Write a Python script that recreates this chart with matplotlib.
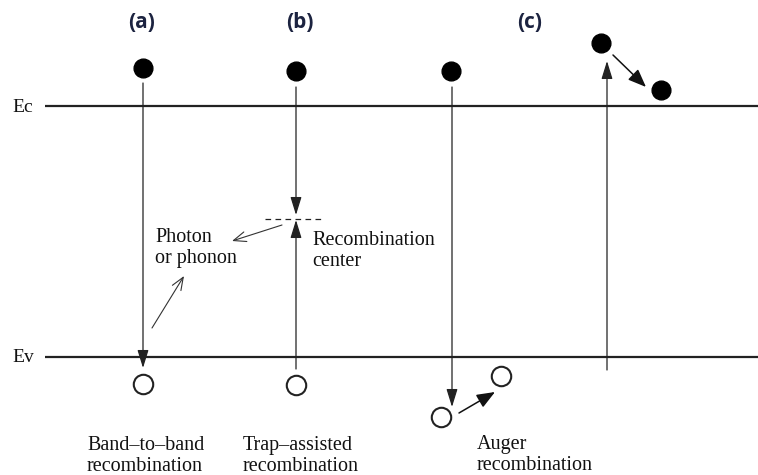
import matplotlib
matplotlib.use('Agg')
import matplotlib.pyplot as plt

W, H = 758, 475

# ---- data (pixel-like diagram coordinates) ----
band_names = ['Ec', 'Ev']
band_y = [106, 357]
band_x = [45, 758]

panel_labels = ['(a)', '(b)', '(c)']
panel_x = [142, 300, 530]
panel_y = [23, 23, 22]

electron_x = [143, 296, 451, 601, 661]
electron_y = [68, 71, 71, 43, 90]
hole_x = [143, 296, 441, 501]
hole_y = [384, 385, 417, 376]

# vertical transitions: x, start y, tip y
trans_x = [143, 296, 296, 452, 607]
trans_y0 = [83, 87, 369, 87, 370]
trans_y1 = [368, 215, 220, 407, 61]

trap_y = 219
trap_x = [265, 323]

# emission arrows (open heads): start -> end
emit_x0 = [282, 152]
emit_y0 = [225, 328]
emit_x1 = [232, 184]
emit_y1 = [241, 276]

# auger arrows (filled heads)
auger_x0 = [459, 613]
auger_y0 = [413, 55]
auger_x1 = [495, 646]
auger_y1 = [392, 87]

text_lines = ['Photon', 'or phonon', 'Recombination', 'center',
              'Band\u2013to\u2013band', 'recombination',
              'Trap\u2013assisted', 'recombination',
              'Auger', 'recombination']
text_x = [155, 155, 312, 312, 87, 87, 243, 243, 477, 477]
text_y = [242, 263, 245, 266, 450, 471, 450, 471, 449, 470]

# ---- drawing ----
fig = plt.figure(figsize=(7.58, 4.75), dpi=100)
ax = fig.add_axes([0, 0, 1, 1])
ax.set_xlim(0, W)
ax.set_ylim(H, 0)
ax.axis('off')

serif = 'Liberation Serif'

for name, y in zip(band_names, band_y):
    ax.plot(band_x, [y, y], color='#222222', lw=1.6, solid_capstyle='butt')
    ax.text(12, y + 1, name, fontsize=14, family=serif, va='center', ha='left', color='#111111')

for lab, x, y in zip(panel_labels, panel_x, panel_y):
    ax.text(x, y, lab, fontsize=15, family='Open Sans', fontweight='bold',
            ha='center', va='center', color='#1c2340')

ax.plot(trap_x, [trap_y, trap_y], color='#222222', lw=0.9, linestyle=(0, (4.5, 3.5)))

vstyle = '-|>,head_length=0.55,head_width=0.17'
for x, y0, y1 in zip(trans_x, trans_y0, trans_y1):
    ax.annotate('', xy=(x, y1), xytext=(x, y0),
                arrowprops=dict(arrowstyle=vstyle, color='#222222', lw=0.9,
                                mutation_scale=20, shrinkA=0, shrinkB=0))

for x0, y0, x1, y1 in zip(emit_x0, emit_y0, emit_x1, emit_y1):
    ax.annotate('', xy=(x1, y1), xytext=(x0, y0),
                arrowprops=dict(arrowstyle='->,head_length=0.45,head_width=0.18',
                                color='#333333', lw=0.8,
                                mutation_scale=20, shrinkA=0, shrinkB=0))

for x0, y0, x1, y1 in zip(auger_x0, auger_y0, auger_x1, auger_y1):
    ax.annotate('', xy=(x1, y1), xytext=(x0, y0),
                arrowprops=dict(arrowstyle='-|>,head_length=0.55,head_width=0.22',
                                color='#111111', lw=1.1,
                                mutation_scale=20, shrinkA=0, shrinkB=0))

ax.plot(electron_x, electron_y, 'o', color='black', markersize=13.5, linestyle='none')
ax.plot(hole_x, hole_y, 'o', markerfacecolor='white', markeredgecolor='#222222',
        markeredgewidth=1.5, markersize=14, linestyle='none')

for t, x, y in zip(text_lines, text_x, text_y):
    ax.text(x, y, t, fontsize=14.5, family=serif, ha='left', va='baseline', color='#111111')

fig.savefig('out.png', dpi=100)
